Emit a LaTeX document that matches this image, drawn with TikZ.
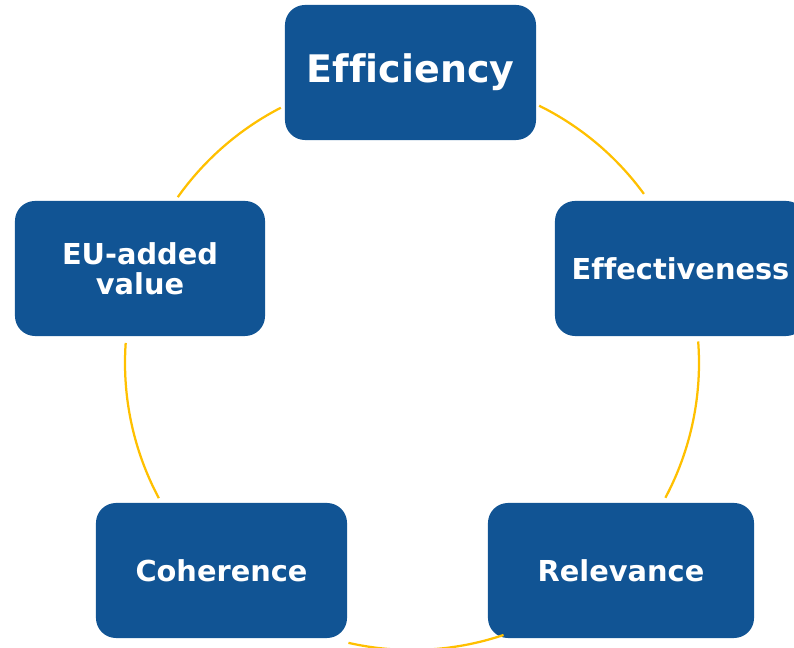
\documentclass[tikz,border=0pt]{standalone}
\usepackage{fontspec}
\setmainfont[Ligatures=NoCommon]{DejaVu Sans}
\definecolor{boxblue}{RGB}{17,84,148}
\definecolor{ringgold}{RGB}{255,192,0}

\begin{document}
\begin{tikzpicture}[x=0.025cm, y=0.025cm,
  every node/.style={white, font=\bfseries\fontsize{20.5}{21.5}\selectfont},
  crit/.style={fill=boxblue, rounded corners=0.5cm, minimum width=6.275cm, minimum height=3.375cm, align=center, inner sep=0pt},
  ring/.style={ringgold, line width=1.6pt}]
\clip (0,0) rectangle (794,648);

\node[crit, font=\bfseries\fontsize{27}{30}\selectfont] (eff) at (410.5,575.5) {Efficiency};
\node[crit] (effv) at (680.5,379.5) {Effectiveness};
\node[crit, minimum width=6.65cm] (rel) at (621,77.5) {Relevance};
\node[crit] (coh) at (221.5,77.5) {Coherence};
\node[crit, minimum width=6.25cm] (eu) at (140,379.5) {EU-added\\value};

\coordinate (c) at (412,285);
\foreach \a/\b in {144.7/117.2, 63.7/36.1, 4.3/-28.0, -71.4/-102.8, 208.1/176.0}
  \draw[ring] (c) ++(\a:287) arc[start angle=\a, end angle=\b, radius=287];
\end{tikzpicture}
\end{document}
